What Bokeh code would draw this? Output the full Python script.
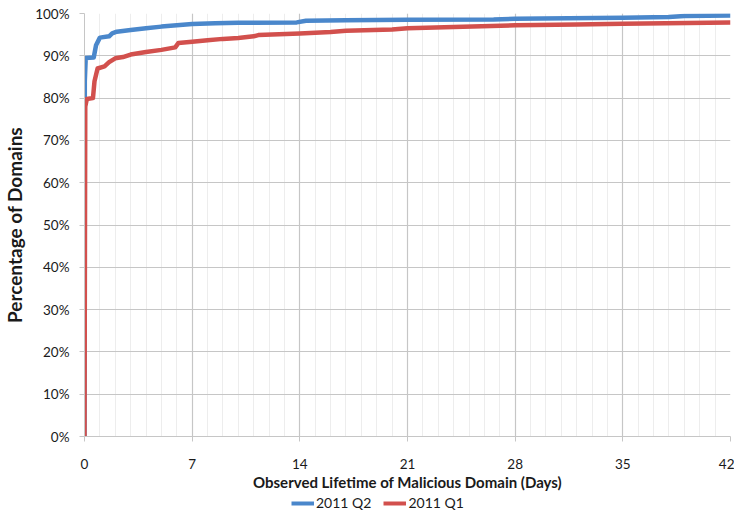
from bokeh.plotting import figure
from bokeh.layouts import column
from bokeh.models import (Legend, LegendItem, SingleIntervalTicker, FixedTicker,
                          PrintfTickFormatter, Range1d)
from bokeh.embed import file_html
from bokeh.resources import INLINE

# ---- data ----
q2_days = [0, 0.02, 0.08, 0.6, 0.75, 1.0, 1.6, 1.8, 2.1, 3.0, 4.0, 5.0, 6.0, 7.0,
           8.5, 10.0, 13.8, 14.4, 17.0, 21.0, 26.6, 28.0, 35.0, 38.0, 39.0, 42.0]
q2_pct = [0, 84.0, 89.5, 89.6, 92.5, 94.3, 94.6, 95.3, 95.7, 96.1, 96.5, 96.9, 97.2, 97.5,
          97.7, 97.8, 97.9, 98.3, 98.4, 98.5, 98.6, 98.75, 99.0, 99.2, 99.4, 99.5]

q1_days = [0, 0.05, 0.15, 0.55, 0.65, 0.85, 1.3, 1.6, 2.0, 2.5, 3.0, 4.0, 5.0, 5.9,
           6.1, 7.0, 8.0, 9.0, 10.0, 11.0, 11.3, 14.0, 16.0, 17.0, 20.0, 21.0, 24.0,
           28.0, 32.0, 35.0, 42.0]
q1_pct = [0, 78.0, 79.8, 80.0, 84.0, 87.0, 87.5, 88.5, 89.4, 89.7, 90.3, 90.9, 91.4, 92.0,
          93.0, 93.3, 93.7, 94.0, 94.2, 94.6, 94.9, 95.3, 95.6, 95.9, 96.2, 96.5, 96.8,
          97.2, 97.4, 97.6, 97.9]

series_labels = ["2011 Q2", "2011 Q1"]
y_ticks = [0, 10, 20, 30, 40, 50, 60, 70, 80, 90, 100]

FONT = "Lato"
BLUE = "#4A87CB"
RED = "#D2504D"
GRID = "#C6C6C6"
TXT = "#1a1a1a"

W = 734
LEFT = 77
p = figure(width=W, height=494, output_backend="svg", toolbar_location=None,
           x_range=Range1d(0, 42), y_range=Range1d(0, 100),
           min_border_left=LEFT, min_border_right=4, min_border_top=13, min_border_bottom=58)

p.outline_line_color = None
p.background_fill_color = "white"
p.border_fill_color = "white"

# x axis
p.xaxis.ticker = SingleIntervalTicker(interval=7, num_minor_ticks=7)
p.xaxis.axis_label = "Observed Lifetime of Malicious Domain (Days)"
p.xaxis.axis_label_text_font = FONT
p.xaxis.axis_label_text_font_style = "bold"
p.xaxis.axis_label_text_font_size = "15px"
p.xaxis.axis_label_text_color = TXT
p.xaxis.axis_label_standoff = 1
p.xaxis.major_label_text_font = FONT
p.xaxis.major_label_text_font_size = "13.5px"
p.xaxis.major_label_text_color = TXT
p.xaxis.major_label_standoff = 17
p.xaxis.axis_line_color = GRID
p.xaxis.major_tick_line_color = GRID
p.xaxis.major_tick_out = 5
p.xaxis.major_tick_in = 0
p.xaxis.minor_tick_line_color = None

# y axis
p.yaxis.ticker = FixedTicker(ticks=y_ticks)
p.yaxis.formatter = PrintfTickFormatter(format="%d%%")
p.yaxis.axis_label = "Percentage of Domains"
p.yaxis.axis_label_text_font = FONT
p.yaxis.axis_label_text_font_style = "bold"
p.yaxis.axis_label_text_font_size = "19px"
p.yaxis.axis_label_text_color = TXT
p.yaxis.axis_label_standoff = 6
p.yaxis.major_label_text_font = FONT
p.yaxis.major_label_text_font_size = "13.5px"
p.yaxis.major_label_text_color = TXT
p.yaxis.major_label_standoff = 10
p.yaxis.axis_line_color = GRID
p.yaxis.major_tick_line_color = GRID
p.yaxis.major_tick_out = 5
p.yaxis.major_tick_in = 0
p.yaxis.minor_tick_line_color = None

# grids
p.xgrid.grid_line_color = GRID
p.xgrid.grid_line_width = 1.2
p.xgrid.minor_grid_line_color = "#EDEDED"
p.ygrid.grid_line_color = GRID
p.ygrid.grid_line_width = 1.2

p.line(q2_days, q2_pct, line_color=BLUE, line_width=4.5, line_join="round")
p.line(q1_days, q1_pct, line_color=RED, line_width=4.5, line_join="round")

# legend strip underneath the chart
LH = 18
leg = figure(width=W, height=LH, output_backend="svg", toolbar_location=None,
             x_range=Range1d(0, 100), y_range=Range1d(0, 1),
             min_border_left=LEFT, min_border_right=4, min_border_top=0, min_border_bottom=0,
             x_axis_type=None, y_axis_type=None)
leg.outline_line_color = None
leg.xgrid.visible = False
leg.ygrid.visible = False
nan = float("nan")
g_q2 = leg.line([nan], [nan], line_color=BLUE, line_width=4)
g_q1 = leg.line([nan], [nan], line_color=RED, line_width=4)
legend = Legend(items=[LegendItem(label=series_labels[0], renderers=[g_q2]),
                       LegendItem(label=series_labels[1], renderers=[g_q1])],
                orientation="horizontal", location=(284 - LEFT, 1),
                label_text_font=FONT, label_text_font_size="14px",
                label_text_color=TXT, label_height=14,
                glyph_width=23, glyph_height=14, label_standoff=2, spacing=12,
                padding=0, margin=0, border_line_color=None,
                background_fill_alpha=0)
leg.add_layout(legend, "center")

open("out.html", "w").write(file_html(column(p, leg, spacing=0), INLINE))
